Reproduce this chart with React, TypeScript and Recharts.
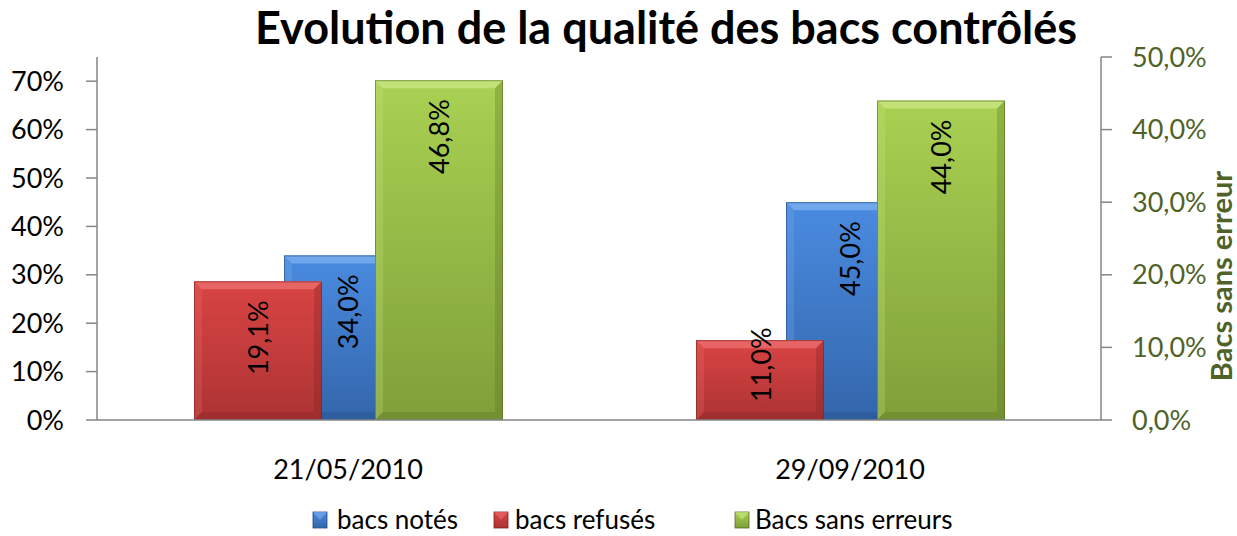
import React from 'react';
import { ComposedChart, Bar, XAxis, YAxis, LabelList } from 'recharts';

const categories = ['21/05/2010', '29/09/2010'];
const bacsNotes = [0.34, 0.45];
const bacsRefuses = [0.191, 0.11];
const bacsSansErreurs = [0.468, 0.44];
const leftTicks = [0, 0.1, 0.2, 0.3, 0.4, 0.5, 0.6, 0.7];
const rightTicks = [0, 0.1, 0.2, 0.3, 0.4, 0.5];
const boundaryTicks = [0, 1, 2];

const data = categories.map((c, i) => ({
  date: c,
  notes: bacsNotes[i],
  refuses: bacsRefuses[i],
  sans: bacsSansErreurs[i],
}));

const W = 1237;
const H = 536;
const FONT = 'Lato, "Open Sans", sans-serif';
const AXIS = '#868686';
const OLIVE = '#4f6228';

type Pal = { id: string; top: string; bot: string; light: string; dark: string };
const BLUE: Pal = { id: 'blue', top: '#4a8be0', bot: '#3366ab', light: '#7fb0f2', dark: '#23497e' };
const RED: Pal = { id: 'red', top: '#d94444', bot: '#ad3333', light: '#ee7070', dark: '#7e2222' };
const GREEN: Pal = { id: 'green', top: '#a9d152', bot: '#7f9f39', light: '#cbe784', dark: '#566d24' };

const pctLeft = (v: number) => `${Math.round(v * 100)}%`;
const pctRight = (v: number) => `${(v * 100).toFixed(1).replace('.', ',')}%`;

function Defs() {
  return (
    <defs>
      {[BLUE, RED, GREEN].map((p) => (
        <linearGradient key={p.id} id={`g-${p.id}`} x1="0" y1="0" x2="0" y2="1">
          <stop offset="0%" stopColor={p.top} />
          <stop offset="100%" stopColor={p.bot} />
        </linearGradient>
      ))}
      <filter id="sh" x="-10%" y="-100%" width="120%" height="300%">
        <feGaussianBlur stdDeviation="1.5" />
      </filter>
    </defs>
  );
}

const makeBar = (p: Pal) => (props: any) => {
  const { x, y, width: w, height: h } = props;
  if (!h || h <= 0) return <g />;
  const b = Math.min(8, h / 2, w / 2);
  return (
    <g>
      <rect x={x + 3} y={y + h - 1} width={w - 6} height={4} fill="#000" opacity={0.25} filter="url(#sh)" />
      <rect x={x} y={y} width={w} height={h} fill={`url(#g-${p.id})`} />
      <polygon points={`${x},${y} ${x + w},${y} ${x + w - b},${y + b} ${x + b},${y + b}`} fill={p.light} opacity={0.75} />
      <polygon points={`${x},${y} ${x + b},${y + b} ${x + b},${y + h - b} ${x},${y + h}`} fill={p.light} opacity={0.25} />
      <polygon points={`${x + w},${y} ${x + w},${y + h} ${x + w - b},${y + h - b} ${x + w - b},${y + b}`} fill={p.dark} opacity={0.3} />
      <polygon points={`${x},${y + h} ${x + w},${y + h} ${x + w - b},${y + h - b} ${x + b},${y + h - b}`} fill={p.dark} opacity={0.3} />
      <rect x={x + 0.5} y={y + 0.5} width={w - 1} height={h - 1} fill="none" stroke={p.dark} strokeWidth={1} opacity={0.6} />
    </g>
  );
};

const renderLabel = (props: any) => {
  const { x, y, width, height, value } = props;
  const cx = x + width / 2;
  const small = height < 110;
  const ty = small ? y + height - 18 : y + 19;
  return (
    <text
      x={cx}
      y={ty}
      transform={`rotate(-90 ${cx} ${ty})`}
      textAnchor={small ? 'start' : 'end'}
      dominantBaseline="central"
      fontFamily={FONT}
      fontSize={27}
      fill="#000"
    >
      {pctRight(value)}
    </text>
  );
};

function renderAxes(visible: boolean) {
  return [
    <XAxis
      key="bnd"
      xAxisId="bnd"
      type="number"
      domain={[0, 2]}
      ticks={boundaryTicks}
      height={0}
      tick={false}
      axisLine={false}
      tickLine={visible ? { stroke: AXIS, strokeWidth: 1.5 } : false}
      tickSize={10}
    />,
    <XAxis
      key="cat"
      xAxisId="cat"
      dataKey="date"
      height={116}
      axisLine={visible ? { stroke: AXIS, strokeWidth: 1.5 } : false}
      tickLine={false}
      tickSize={0}
      tickMargin={40}
      tick={visible ? { fontFamily: FONT, fontSize: 27, fill: '#000' } : false}
    />,
    <YAxis
      key="left"
      yAxisId="left"
      orientation="left"
      width={97}
      domain={[0, 0.75]}
      ticks={leftTicks}
      tickFormatter={pctLeft}
      allowDataOverflow
      axisLine={visible ? { stroke: AXIS, strokeWidth: 1.5 } : false}
      tickLine={visible ? { stroke: AXIS, strokeWidth: 1.5 } : false}
      tickSize={11}
      tickMargin={22}
      tick={visible ? { fontFamily: FONT, fontSize: 27, fill: '#000' } : false}
    />,
    <YAxis
      key="right"
      yAxisId="right"
      orientation="right"
      width={136}
      domain={[0, 0.5]}
      ticks={rightTicks}
      tickFormatter={pctRight}
      allowDataOverflow
      axisLine={visible ? { stroke: AXIS, strokeWidth: 1.5 } : false}
      tickLine={visible ? { stroke: AXIS, strokeWidth: 1.5 } : false}
      tickSize={11}
      tickMargin={20}
      tick={visible ? { fontFamily: FONT, fontSize: 27, fill: OLIVE } : false}
    />,
  ];
}

const margin = { top: 57, right: 0, bottom: 0, left: 0 };

function LegendSwatch({ x, p }: { x: number; p: Pal }) {
  return (
    <g>
      <rect x={x} y={512} width={14} height={16} fill={`url(#lg-${p.id})`} stroke={p.dark} strokeWidth={0.8} />
      <polygon points={`${x},${512} ${x + 14},${512} ${x + 7},${520}`} fill={p.light} opacity={0.6} />
    </g>
  );
}

export default function App() {
  return (
    <div style={{ position: 'absolute', left: 0, top: 0, width: W, height: H, background: '#fff', overflow: 'hidden' }}>
      <div style={{ position: 'absolute', left: 0, top: 0 }}>
        <ComposedChart width={W} height={H} data={data} margin={margin}>
          <Defs />
          {renderAxes(false)}
          <Bar
            dataKey="notes"
            name="bacs notés"
            xAxisId="cat"
            yAxisId="left"
            barSize={128}
            isAnimationActive={false}
            shape={makeBar(BLUE)}
          >
            <LabelList dataKey="notes" content={renderLabel} />
          </Bar>
        </ComposedChart>
      </div>
      <div style={{ position: 'absolute', left: 0, top: 0 }}>
        <ComposedChart width={W} height={H} data={data} margin={margin} barGap={53}>
          <Defs />
          {renderAxes(true)}
          <Bar
            dataKey="refuses"
            name="bacs refusés"
            xAxisId="cat"
            yAxisId="right"
            barSize={128}
            isAnimationActive={false}
            shape={makeBar(RED)}
          >
            <LabelList dataKey="refuses" content={renderLabel} />
          </Bar>
          <Bar
            dataKey="sans"
            name="Bacs sans erreurs"
            xAxisId="cat"
            yAxisId="right"
            barSize={128}
            isAnimationActive={false}
            shape={makeBar(GREEN)}
          >
            <LabelList dataKey="sans" content={renderLabel} />
          </Bar>
        </ComposedChart>
      </div>
      <svg width={W} height={H} style={{ position: 'absolute', left: 0, top: 0, pointerEvents: 'none' }}>
        <defs>
          {[BLUE, RED, GREEN].map((p) => (
            <linearGradient key={p.id} id={`lg-${p.id}`} x1="0" y1="0" x2="0" y2="1">
              <stop offset="0%" stopColor={p.top} />
              <stop offset="100%" stopColor={p.bot} />
            </linearGradient>
          ))}
        </defs>
        <text x={666} y={44} textAnchor="middle" fontFamily={FONT} fontWeight={700} fontSize={45} fill="#000">
          Evolution de la qualité des bacs contrôlés
        </text>
        <text
          x={1220}
          y={276}
          transform="rotate(-90 1220 276)"
          textAnchor="middle"
          dominantBaseline="central"
          fontFamily={FONT}
          fontWeight={700}
          fontSize={29}
          fill={OLIVE}
        >
          Bacs sans erreur
        </text>
        <LegendSwatch x={313} p={BLUE} />
        <text x={337} y={529} fontFamily={FONT} fontSize={26} fill="#000">bacs notés</text>
        <LegendSwatch x={494} p={RED} />
        <text x={515} y={529} fontFamily={FONT} fontSize={26} fill="#000">bacs refusés</text>
        <LegendSwatch x={735} p={GREEN} />
        <text x={755} y={529} fontFamily={FONT} fontSize={26} fill="#000">Bacs sans erreurs</text>
      </svg>
    </div>
  );
}
